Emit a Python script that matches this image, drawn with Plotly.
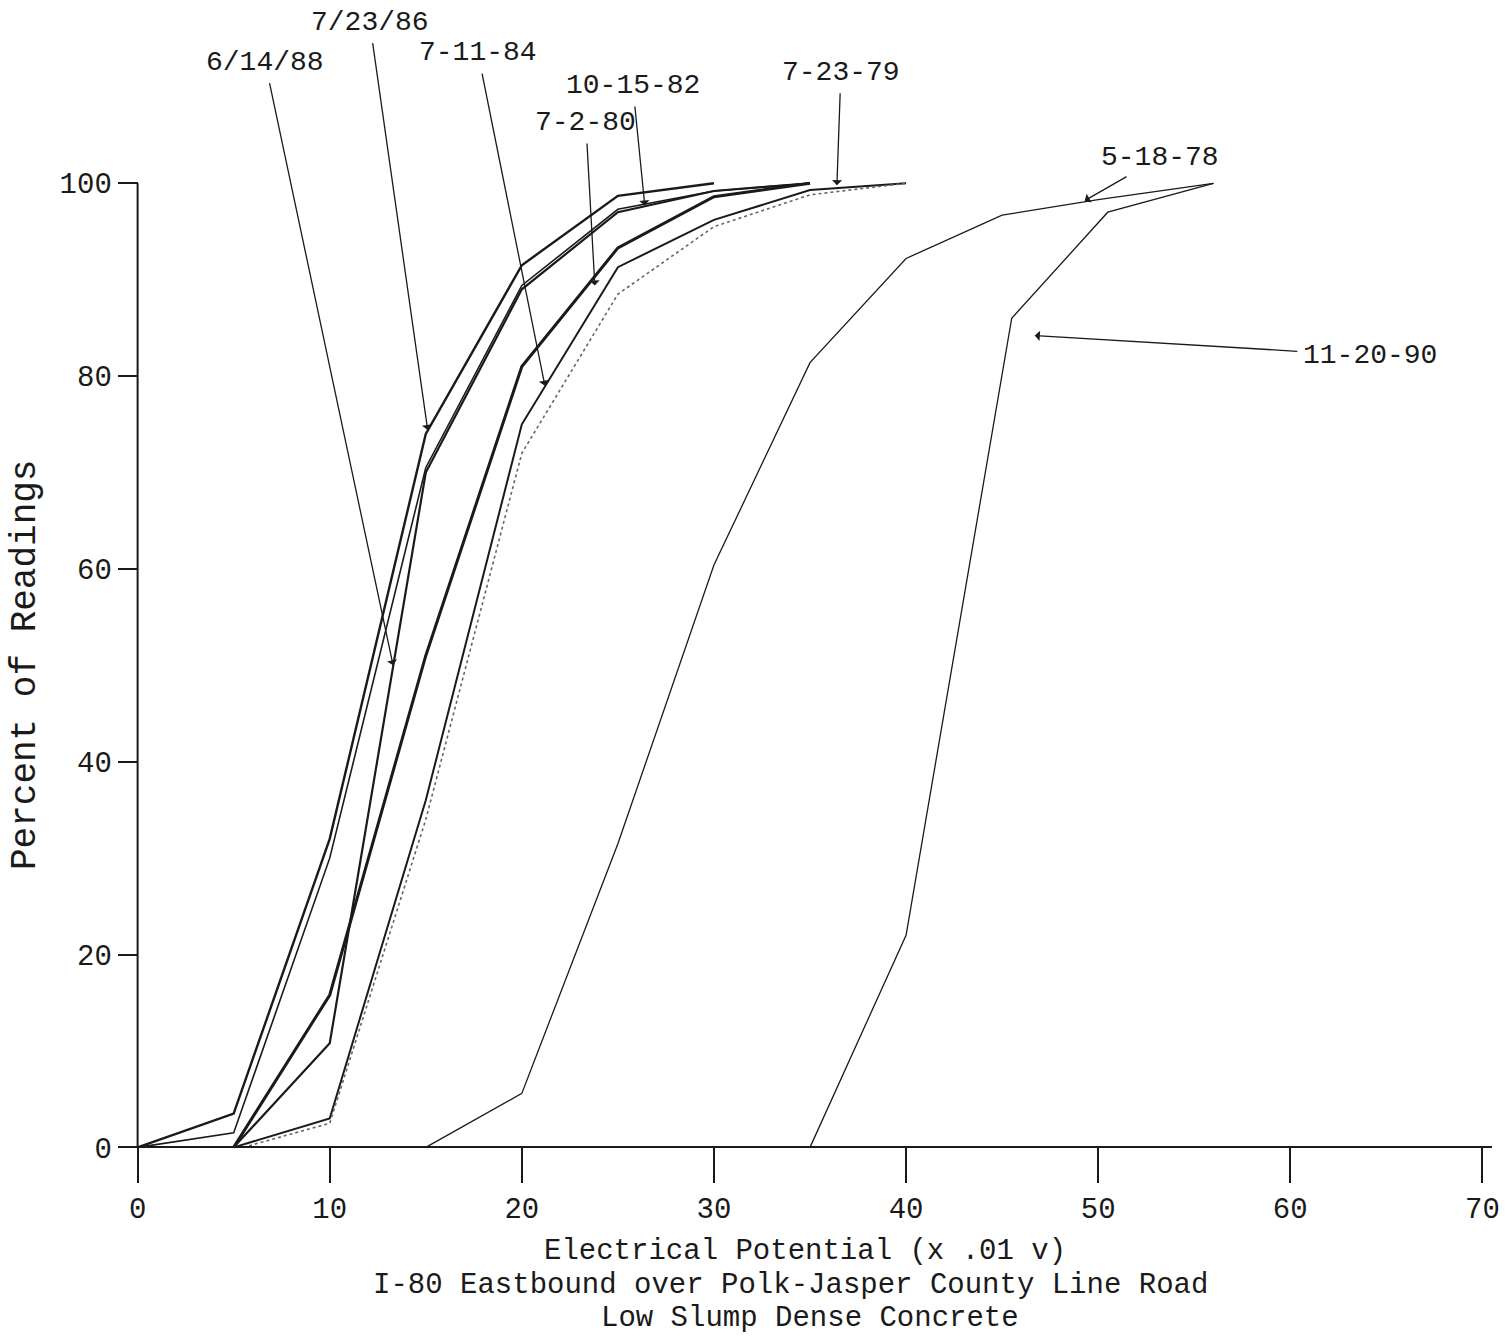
import plotly.graph_objects as go

# ---------------- data ----------------
x_061488 = [5, 10, 15, 20, 25, 30, 35]
y_061488 = [0, 10.8, 70, 89, 97, 99.2, 100]

x_072386 = [0, 5, 10, 15, 20, 25, 30]
y_072386 = [0, 3.5, 32, 74, 91.5, 98.7, 100]

x_101582 = [0, 5, 10, 15, 20, 25, 30, 35]
y_101582 = [0, 1.5, 30, 70.5, 89.4, 97.3, 99.2, 100]

x_071184 = [5, 10, 15, 20, 25, 30, 35]
y_071184 = [0, 15.8, 51, 81, 93.3, 98.6, 100]

x_070280 = [5, 10, 15, 20, 25, 30, 35, 40]
y_070280 = [0, 3, 36, 75, 91.3, 96.2, 99.3, 100]

x_072379 = [5.5, 10, 15, 20, 25, 30, 35, 40]
y_072379 = [0, 2.5, 34, 72, 88.5, 95.5, 98.8, 100]

x_051878 = [15, 20, 25, 30, 35, 40, 45, 50, 56]
y_051878 = [0, 5.6, 31.5, 60.4, 81.4, 92.2, 96.7, 98.3, 100]

x_112090 = [35, 40, 45.5, 50.5, 56]
y_112090 = [0, 22, 86, 97, 100]

x_ticks = [0, 10, 20, 30, 40, 50, 60, 70]
y_ticks = [0, 20, 40, 60, 80, 100]

# label text, arrow target (data coords), label offset (pixels)
labels = ["6/14/88", "7/23/86", "7-11-84", "7-2-80", "10-15-82", "7-23-79", "5-18-78", "11-20-90"]
label_tx = [13.3, 15.1, 21.2, 23.8, 26.4, 36.4, 49.3, 46.7]
label_ty = [50, 74.4, 79, 89.4, 97.7, 99.8, 98.2, 84.2]
label_ax = [-128, -58, -67, -9, -12, 4, 75, 335]
label_ay = [-603, -408, -333, -163, -120, -113, -43, 20]

FONT = "Liberation Mono, Courier New, monospace"
INK = "#1a1a1a"

# ---------------- figure ----------------
W, H = 1508, 1337
L, R, T, B = 128, 16, 164, 180
XR = [-0.5, 70.5]
YR = [-1, 102]

fig = go.Figure()

series = [
    (x_061488, y_061488, "6/14/88", 2.2, INK, "solid"),
    (x_072386, y_072386, "7/23/86", 2.4, INK, "solid"),
    (x_101582, y_101582, "10-15-82", 1.6, INK, "solid"),
    (x_071184, y_071184, "7-11-84", 3.0, INK, "solid"),
    (x_070280, y_070280, "7-2-80", 2.0, INK, "solid"),
    (x_072379, y_072379, "7-23-79", 1.6, "#666666", "dot"),
    (x_051878, y_051878, "5-18-78", 1.3, INK, "solid"),
    (x_112090, y_112090, "11-20-90", 1.3, INK, "solid"),
]
for xs, ys, name, w, c, d in series:
    fig.add_trace(go.Scatter(x=xs, y=ys, mode="lines", name=name,
                             line=dict(color=c, width=w, dash=d),
                             showlegend=False, hoverinfo="skip"))

# y axis line from 0 to 100
fig.add_shape(type="line", xref="x", yref="y", x0=0, x1=0, y0=0, y1=100,
              line=dict(color=INK, width=2))

pw = W - L - R
ph = H - T - B


def px2paper(px, py):
    return (px - L) / pw, (H - B - py) / ph


annotations = []
for t, tx, ty, ax, ay in zip(labels, label_tx, label_ty, label_ax, label_ay):
    annotations.append(dict(x=tx, y=ty, xref="x", yref="y", text=t,
                            showarrow=True, ax=ax, ay=ay,
                            arrowhead=1, arrowsize=1.3, arrowwidth=1.3,
                            arrowcolor=INK, standoff=0, startstandoff=4,
                            font=dict(family=FONT, size=28, color=INK)))

title_lines = [("Electrical Potential (x .01 v)", 805, 1251),
               ("I-80 Eastbound over Polk-Jasper County Line Road", 790, 1285),
               ("Low Slump Dense Concrete", 810, 1318)]
for t, px, py in title_lines:
    xp, yp = px2paper(px, py)
    annotations.append(dict(x=xp, y=yp, xref="paper", yref="paper", text=t,
                            showarrow=False, xanchor="center", yanchor="middle",
                            font=dict(family=FONT, size=29, color=INK)))

xp, yp = px2paper(25, 665)
annotations.append(dict(x=xp, y=yp, xref="paper", yref="paper",
                        text="Percent of Readings", textangle=-90,
                        showarrow=False, xanchor="center", yanchor="middle",
                        font=dict(family=FONT, size=36, color=INK)))

fig.update_layout(
    width=W, height=H,
    margin=dict(l=L, r=R, t=T, b=B, autoexpand=False),
    paper_bgcolor="white", plot_bgcolor="white",
    annotations=annotations,
    xaxis=dict(range=XR, tickvals=x_ticks, ticktext=[str(v) for v in x_ticks],
               showgrid=False, zeroline=False, showline=True, linecolor=INK,
               linewidth=2, ticks="outside", ticklen=35, tickwidth=2,
               tickcolor=INK, anchor="free",
               position=(0 - YR[0]) / (YR[1] - YR[0]),
               tickfont=dict(family=FONT, size=29, color=INK),
               automargin=False),
    yaxis=dict(range=YR, tickvals=y_ticks, ticktext=[str(v) for v in y_ticks],
               showgrid=False, zeroline=False, showline=False,
               ticks="outside", ticklen=20, tickwidth=2, tickcolor=INK,
               anchor="free", position=(0 - XR[0]) / (XR[1] - XR[0]),
               tickfont=dict(family=FONT, size=29, color=INK),
               automargin=False),
)

fig.write_html("out.html")
